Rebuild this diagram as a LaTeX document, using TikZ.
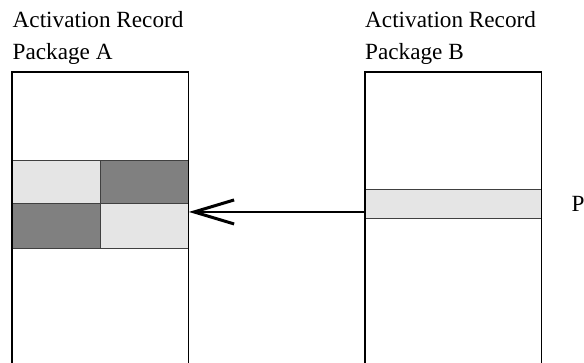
\documentclass[tikz,border=0pt]{standalone}
\usepackage{fontspec}
\setmainfont{Liberation Serif}
\usetikzlibrary{arrows.meta}
\definecolor{lightcell}{HTML}{E5E5E5}
\definecolor{darkcell}{HTML}{808080}
\begin{document}
\begin{tikzpicture}[x=1pt,y=-1pt,
  lbl/.style={anchor=base west, inner sep=0pt, font=\fontsize{23.2}{27}\selectfont},
  frame/.style={anchor=north west, inner sep=0pt, minimum width=176pt, minimum height=300pt},
  cell/.style={anchor=north west, inner sep=0pt, draw=black!75, line width=0.9pt, minimum width=88pt},
  lightfill/.style={fill=lightcell},
  darkfill/.style={fill=darkcell},
  outline/.style={draw=black, line width=1.2pt},
  arr/.style={line width=2pt, -{Straight Barb[length=40pt, width=24pt, line width=3pt]}}]
\useasboundingbox (0,0) rectangle (584,362);
% labels
\node[lbl] (arA) at (12.5,27.7) {Activation Record};
\node[lbl] (pkA) at (12.5,59) {Package A};
\node[lbl] (arB) at (365,27.7) {Activation Record};
\node[lbl] (pkB) at (365,59) {Package B};
% frames
\node[frame] (boxA) at (12,72) {};
\node[frame] (boxB) at (365,72) {};
% cells of package A
\node[cell, lightfill, minimum height=43pt] (a11) at (12,160) {};
\node[cell, darkfill, minimum height=43pt] (a12) at (100,160) {};
\node[cell, darkfill, minimum height=45pt] (a21) at (12,203) {};
\node[cell, lightfill, minimum height=45pt] (a22) at (100,203) {};
% band in package B
\node[anchor=north west, inner sep=0pt, draw=black!75, line width=0.9pt, lightfill, minimum width=176pt, minimum height=29pt] (band) at (365,189) {};
\node[lbl] (plbl) at (571.5,211) {P};
% outlines (open at the bottom)
\draw[outline] (boxA.south west) -- (boxA.north west) -- (boxA.north east) -- (boxA.south east);
\draw[outline] (boxB.south west) -- (boxB.north west) -- (boxB.north east) -- (boxB.south east);
% arrow
\coordinate (src) at ([yshift=-8pt]band.west);
\draw[arr] (src) -- (src -| a22.east);
\end{tikzpicture}
\end{document}
